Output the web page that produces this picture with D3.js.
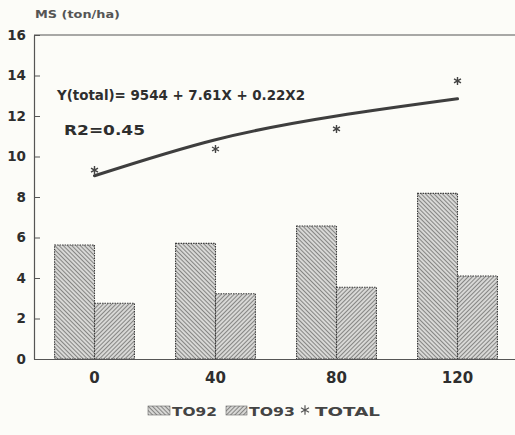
<!DOCTYPE html>
<html><head><meta charset="utf-8">
<script src="https://cdn.jsdelivr.net/npm/d3@7"></script>
<style>html,body{margin:0;padding:0;background:#fcfcf8;}svg{display:block;}</style>
</head><body>
<script>
const categories = ["0", "40", "80", "120"];
const to92 = [5.63, 5.71, 6.57, 8.18];
const to93 = [2.75, 3.22, 3.54, 4.10];
const total = [9.33, 10.37, 11.36, 13.73];
const fitted = [9.05, 10.83, 12.0, 12.85];
const yTicks = [0, 2, 4, 6, 8, 10, 12, 14, 16];
const seriesNames = ["TO92", "TO93", "TOTAL"];

const W = 515, H = 435;
const mLeft = 34, mRight = 518, mTop = 35, mBottom = 359;
const font = "'DejaVu Sans', sans-serif";

const svg = d3.select("body").append("svg").attr("width", W).attr("height", H);
svg.append("rect").attr("width", W).attr("height", H).attr("fill", "#fcfcf8");

const defs = svg.append("defs");
function hatch(id, angle) {
  const p = defs.append("pattern").attr("id", id).attr("patternUnits", "userSpaceOnUse")
    .attr("width", 3).attr("height", 3).attr("patternTransform", `rotate(${angle})`);
  p.append("rect").attr("width", 3).attr("height", 3).attr("fill", "#d8d8d6");
  p.append("line").attr("x1", 0.5).attr("y1", 0).attr("x2", 0.5).attr("y2", 3)
    .attr("stroke", "#858583").attr("stroke-width", 1);
}
hatch("h92", -45);
hatch("h93", 45);

const x = d3.scaleBand().domain(categories).range([mLeft, mRight]).paddingInner(0.34).paddingOuter(0.17);
const x1 = d3.scaleBand().domain([0, 1]).range([0, x.bandwidth()]);
const y = d3.scaleLinear().domain([0, 16]).range([mBottom, mTop]);

// frame top line
svg.append("line").attr("x1", mLeft).attr("x2", mRight).attr("y1", mTop).attr("y2", mTop)
  .attr("stroke", "#555").attr("stroke-width", 1.2);

// bars
const groups = svg.append("g").selectAll("g").data(categories).join("g")
  .attr("transform", d => `translate(${x(d)},0)`);
groups.append("rect").attr("x", x1(0)).attr("width", x1.bandwidth())
  .attr("y", (d, i) => y(to92[i])).attr("height", (d, i) => y(0) - y(to92[i]))
  .attr("fill", "url(#h92)").attr("stroke", "#3c3c3c").attr("stroke-width", 1.1).attr("stroke-dasharray", "1.5,1");
groups.append("rect").attr("x", x1(1)).attr("width", x1.bandwidth())
  .attr("y", (d, i) => y(to93[i])).attr("height", (d, i) => y(0) - y(to93[i]))
  .attr("fill", "url(#h93)").attr("stroke", "#3c3c3c").attr("stroke-width", 1.1).attr("stroke-dasharray", "1.5,1");

// y axis
const yAxis = svg.append("g").attr("transform", `translate(${mLeft},0)`)
  .call(d3.axisLeft(y).tickValues(yTicks).tickSizeInner(-6).tickSizeOuter(0).tickPadding(8));
yAxis.select(".domain").attr("stroke", "#555").attr("stroke-width", 1.2);
yAxis.selectAll(".tick line").attr("stroke", "#555").attr("stroke-width", 1);
yAxis.selectAll("text").attr("font-family", font).attr("font-weight", "bold")
  .attr("font-size", 13.5).attr("fill", "#2e2e2e");

// x axis
const xAxis = svg.append("g").attr("transform", `translate(0,${mBottom})`)
  .call(d3.axisBottom(x).tickSize(0).tickPadding(13));
xAxis.select(".domain").attr("stroke", "#555").attr("stroke-width", 1.2);
xAxis.selectAll("text").attr("font-family", font).attr("font-weight", "bold")
  .attr("font-size", 15).attr("fill", "#2e2e2e");

// fitted curve
const line = d3.line().x((d, i) => x(categories[i]) + x.bandwidth() / 2).y(d => y(d)).curve(d3.curveNatural);
svg.append("path").datum(fitted).attr("d", line).attr("fill", "none")
  .attr("stroke", "#3e3e3e").attr("stroke-width", 3).attr("stroke-linecap", "round");

// total stars
svg.append("g").selectAll("path").data(total).join("path")
  .attr("transform", (d, i) => `translate(${x(categories[i]) + x.bandwidth() / 2},${y(d)})`)
  .attr("d", d3.symbol(d3.symbolAsterisk, 45))
  .attr("fill", "none").attr("stroke", "#444").attr("stroke-width", 1.4);

// texts
function txt(s, tx, ty, size, len, col) {
  const t = svg.append("text").attr("x", tx).attr("y", ty).text(s)
    .attr("font-family", font).attr("font-weight", "bold").attr("font-size", size)
    .attr("fill", col || "#2e2e2e");
  if (len) t.attr("textLength", len).attr("lengthAdjust", "spacingAndGlyphs");
  return t;
}
txt("MS (ton/ha)", 35, 18, 11, 85, "#555");
txt("Y(total)= 9544 + 7.61X + 0.22X2", 57, 100, 14, 248);
txt("R2=0.45", 64, 135, 14, 81);

// legend
const leg = svg.append("g");
leg.append("rect").attr("x", 148).attr("y", 406).attr("width", 22).attr("height", 9)
  .attr("fill", "url(#h92)").attr("stroke", "#666").attr("stroke-width", 0.6);
txt(seriesNames[0], 172, 415.5, 12, 45, "#444");
leg.append("rect").attr("x", 226).attr("y", 406).attr("width", 21).attr("height", 9)
  .attr("fill", "url(#h93)").attr("stroke", "#666").attr("stroke-width", 0.6);
txt(seriesNames[1], 249, 415.5, 12, 46, "#444");
leg.append("path").attr("transform", "translate(305,410)")
  .attr("d", d3.symbol(d3.symbolAsterisk, 60))
  .attr("fill", "none").attr("stroke", "#555").attr("stroke-width", 1.2);
txt(seriesNames[2], 315, 415.5, 12, 65, "#444");
</script>
</body></html>
